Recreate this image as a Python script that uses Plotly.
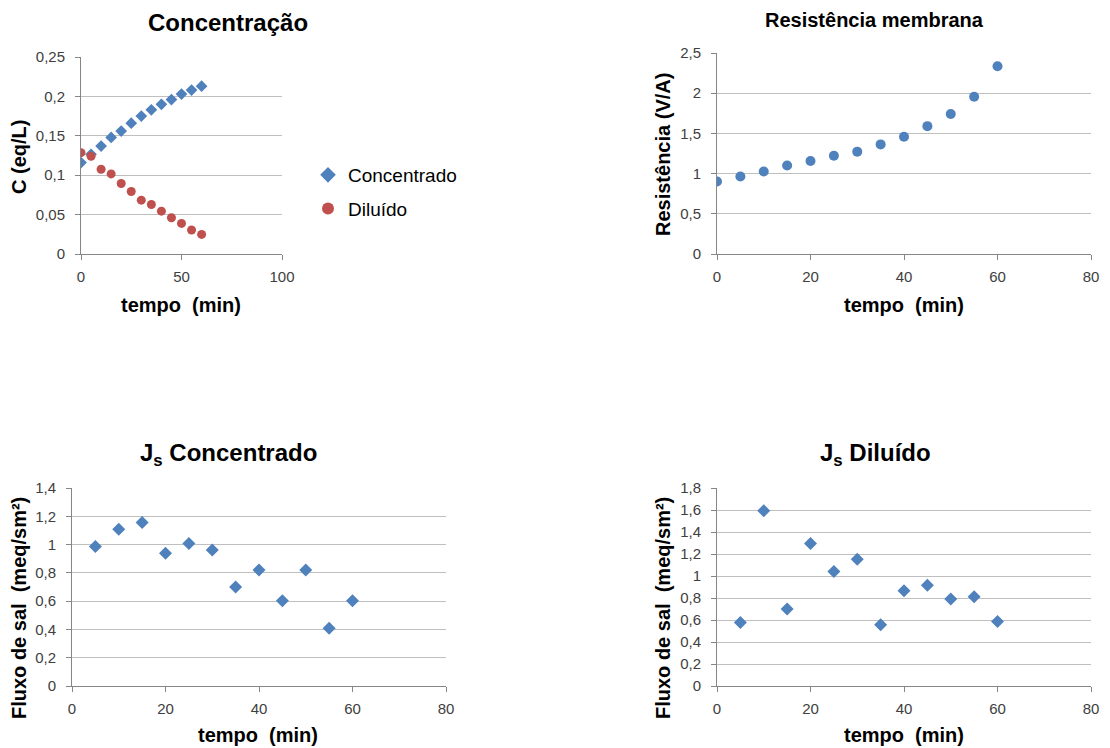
import plotly.graph_objects as go

# ---- data ----
tempo_c = [0, 5, 10, 15, 20, 25, 30, 35, 40, 45, 50, 55, 60]
conc_concentrado = [0.116, 0.1265, 0.137, 0.148, 0.156, 0.166, 0.175, 0.183, 0.190, 0.196, 0.203, 0.208, 0.213]
conc_diluido = [0.1286, 0.124, 0.1075, 0.1016, 0.0894, 0.0793, 0.0683, 0.0628, 0.0544, 0.046, 0.0388, 0.0304, 0.0249]

tempo_r = [0, 5, 10, 15, 20, 25, 30, 35, 40, 45, 50, 55, 60]
resistencia = [0.902, 0.964, 1.026, 1.10, 1.157, 1.223, 1.273, 1.363, 1.458, 1.59, 1.742, 1.956, 2.335]

tempo_js = [5, 10, 15, 20, 25, 30, 35, 40, 45, 50, 55, 60]
js_concentrado = [0.986, 1.109, 1.156, 0.939, 1.007, 0.962, 0.700, 0.821, 0.603, 0.821, 0.409, 0.603]
js_diluido = [0.578, 1.593, 0.699, 1.295, 1.040, 1.152, 0.556, 0.867, 0.915, 0.791, 0.812, 0.587]

BLUE = "#4F81BD"
RED = "#C0504D"
W, H = 1110, 748
FONT = "Liberation Sans, Arial, sans-serif"
TICKC = "#404040"
GRID = "#BFBFBF"
LINE = "#868686"


def px_x(x):
    return x / W


def px_y(y):
    return 1 - y / H


fig = go.Figure()

fig.add_trace(go.Scatter(x=tempo_c, y=conc_concentrado, mode="markers", name="Concentrado",
                         marker=dict(symbol="diamond", size=9, color=BLUE),
                         xaxis="x", yaxis="y", legendgroup="a"))
fig.add_trace(go.Scatter(x=tempo_c, y=conc_diluido, mode="markers", name="Diluído",
                         marker=dict(symbol="circle", size=9, color=RED),
                         xaxis="x", yaxis="y", legendgroup="b"))
fig.add_trace(go.Scatter(x=tempo_r, y=resistencia, mode="markers", showlegend=False,
                         marker=dict(symbol="circle", size=10, color=BLUE),
                         xaxis="x2", yaxis="y2"))
fig.add_trace(go.Scatter(x=tempo_js, y=js_concentrado, mode="markers", showlegend=False,
                         marker=dict(symbol="diamond", size=10, color=BLUE),
                         xaxis="x3", yaxis="y3"))
fig.add_trace(go.Scatter(x=tempo_js, y=js_diluido, mode="markers", showlegend=False,
                         marker=dict(symbol="diamond", size=10, color=BLUE),
                         xaxis="x4", yaxis="y4"))


def xax(dom, rng, dtick, anchor):
    return dict(domain=dom, range=rng, dtick=dtick, tick0=0, anchor=anchor, automargin=False,
                showgrid=False, zeroline=False, showline=True, linecolor=LINE, linewidth=1,
                ticks="outside", ticklen=5, tickcolor=LINE, ticklabelstandoff=4,
                tickfont=dict(family=FONT, size=15, color=TICKC), fixedrange=True)


def yax(dom, rng, dtick, anchor):
    return dict(domain=dom, range=rng, dtick=dtick, tick0=0, anchor=anchor, automargin=False,
                showgrid=True, gridcolor=GRID, gridwidth=1, zeroline=False,
                showline=True, linecolor=LINE, linewidth=1,
                ticks="outside", ticklen=5, tickcolor=LINE, ticklabelstandoff=7,
                tickfont=dict(family=FONT, size=15, color=TICKC), fixedrange=True)


xd1 = [px_x(81), px_x(282)]
yd1 = [px_y(254), px_y(57)]
xd2 = [px_x(717), px_x(1091)]
yd2 = [px_y(254), px_y(53)]
xd3 = [px_x(72), px_x(446)]
yd3 = [px_y(686), px_y(488)]
xd4 = [px_x(717), px_x(1091)]
yd4 = [px_y(686), px_y(488)]

fig.update_layout(
    width=W, height=H,
    margin=dict(l=0, r=0, t=0, b=0, autoexpand=False),
    paper_bgcolor="white", plot_bgcolor="white",
    separators=",.",
    font=dict(family=FONT, color="black"),
    xaxis=xax(xd1, [0, 100], 50, "y"),
    yaxis=yax(yd1, [0, 0.25], 0.05, "x"),
    xaxis2=xax(xd2, [0, 80], 20, "y2"),
    yaxis2=yax(yd2, [0, 2.5], 0.5, "x2"),
    xaxis3=xax(xd3, [0, 80], 20, "y3"),
    yaxis3=yax(yd3, [0, 1.4], 0.2, "x3"),
    xaxis4=xax(xd4, [0, 80], 20, "y4"),
    yaxis4=yax(yd4, [0, 1.8], 0.2, "x4"),
    showlegend=True,
    legend=dict(x=px_x(308), y=px_y(156), xanchor="left", yanchor="top",
                font=dict(family=FONT, size=19, color="black"),
                bgcolor="rgba(0,0,0,0)", tracegroupgap=6, itemsizing="constant"),
)

annots = [
    ("<b>Concentração</b>", 228, 22, 24, 0),
    ("<b>Resistência membrana</b>", 874, 20, 20, 0),
    ("<b>J<sub>s</sub> Concentrado</b>", 228, 454, 24, 0),
    ("<b>J<sub>s</sub> Diluído</b>", 875, 454, 24, 0),
    ("<b>tempo  (min)</b>", 181, 305, 20, 0),
    ("<b>tempo  (min)</b>", 904, 305, 20, 0),
    ("<b>tempo  (min)</b>", 258, 735, 20, 0),
    ("<b>tempo  (min)</b>", 904, 735, 20, 0),
    ("<b>C (eq/L)</b>", 19, 157, 20, -90),
    ("<b>Resistência (V/A)</b>", 663, 155, 20, -90),
    ("<b>Fluxo de sal  (meq/sm²)</b>", 19, 608, 20, -90),
    ("<b>Fluxo de sal  (meq/sm²)</b>", 663, 608, 20, -90),
]
for text, x, y, size, ang in annots:
    fig.add_annotation(text=text, x=px_x(x), y=px_y(y), xref="paper", yref="paper",
                       xanchor="center", yanchor="middle", showarrow=False, textangle=ang,
                       font=dict(family=FONT, size=size, color="black"))

fig.write_html("out.html", config={"displayModeBar": False},
               post_script="document.body.style.margin='0';document.body.style.overflow='hidden';")
